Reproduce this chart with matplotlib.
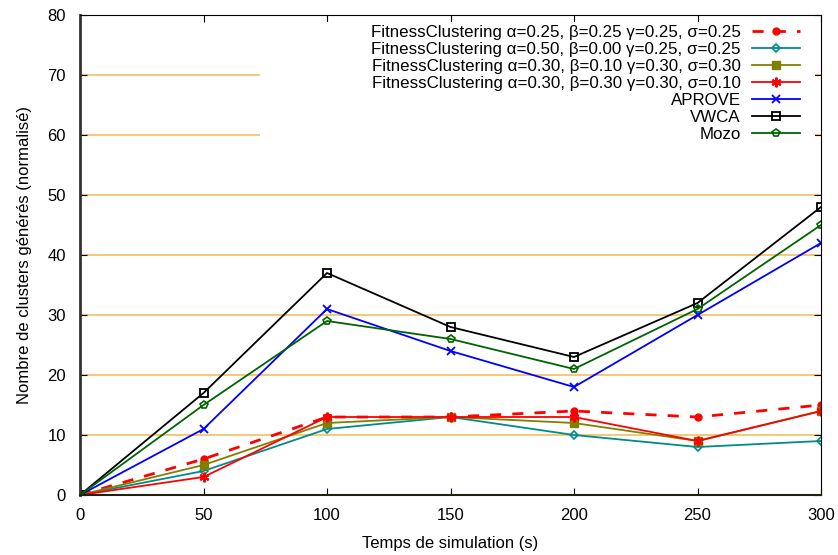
import matplotlib
matplotlib.use("Agg")
import matplotlib.pyplot as plt
from matplotlib.patches import Rectangle

plt.rcParams['font.family'] = ['Liberation Sans', 'DejaVu Sans']

temps = [0, 50, 100, 150, 200, 250, 300]
fc1 = [0, 6, 13, 13, 14, 13, 15]
fc2 = [0, 4, 11, 13, 10, 8, 9]
fc3 = [0, 5, 12, 13, 12, 9, 14]
fc4 = [0, 3, 13, 13, 13, 9, 14]
aprove = [0, 11, 31, 24, 18, 30, 42]
vwca = [0, 17, 37, 28, 23, 32, 48]
mozo = [0, 15, 29, 26, 21, 31, 45]

labels = ['FitnessClustering α=0.25, β=0.25 γ=0.25, σ=0.25',
          'FitnessClustering α=0.50, β=0.00 γ=0.25, σ=0.25',
          'FitnessClustering α=0.30, β=0.10 γ=0.30, σ=0.30',
          'FitnessClustering α=0.30, β=0.30 γ=0.30, σ=0.10',
          'APROVE', 'VWCA', 'Mozo']

fig = plt.figure(figsize=(8.38, 5.55), dpi=100)
ax = fig.add_axes([80/838, 60/555, 741/838, 480/555])

ax.plot(temps, fc1, color='#ff0000', ls=(0, (4, 4)), lw=2, marker='o', ms=5, label=labels[0])
ax.plot(temps, fc2, color='#008b8b', lw=1.3, marker='D', ms=4, mfc='none', mew=1.2, label=labels[1])
ax.plot(temps, fc3, color='#808000', lw=1.3, marker='s', ms=6, label=labels[2])
ax.plot(temps, fc4, color='#ff0000', lw=1.3, marker=(6, 2, 0), ms=7, mew=1.5, label=labels[3])
ax.plot(temps, aprove, color='#0000ff', lw=1.3, marker='x', ms=6, mew=1.3, label=labels[4])
ax.plot(temps, vwca, color='black', lw=1.3, marker='s', ms=6, mfc='none', mew=1.3, label=labels[5])
ax.plot(temps, mozo, color='#006400', lw=1.3, marker='p', ms=6, mfc='none', mew=1.2, label=labels[6])

ax.set_xlim(0, 300)
ax.set_ylim(0, 80)
ax.set_xticks(temps)
ax.set_yticks(range(0, 81, 10))
ax.yaxis.grid(True, color='#f0c060', lw=1.2)
ax.set_axisbelow(True)
ax.tick_params(direction='in', top=True, right=True, labelsize=12, length=5)
ax.tick_params(axis='x', pad=9)
ax.tick_params(axis='y', pad=10)
ax.spines['left'].set_linewidth(2)
ax.spines['left'].set_color('#333333')
ax.spines['bottom'].set_linewidth(1.5)
ax.spines['bottom'].set_color('#222211')
ax.set_xlabel('Temps de simulation (s)', fontsize=12, labelpad=10)
ax.set_ylabel('Nombre de clusters générés (normalisé)', fontsize=12, labelpad=11)

# opaque key box like gnuplot
ax.add_patch(Rectangle((0.243, 0.725), 0.749, 0.26, transform=ax.transAxes,
                       facecolor='white', edgecolor='none', zorder=1))

leg = ax.legend(loc='upper right', markerfirst=False, numpoints=1, fontsize=12.2,
                frameon=False, labelspacing=0.12, handlelength=2.85,
                handletextpad=0.65, borderpad=0, borderaxespad=0,
                bbox_to_anchor=(0.9717, 0.98))

fig.savefig('out.png', dpi=100)
